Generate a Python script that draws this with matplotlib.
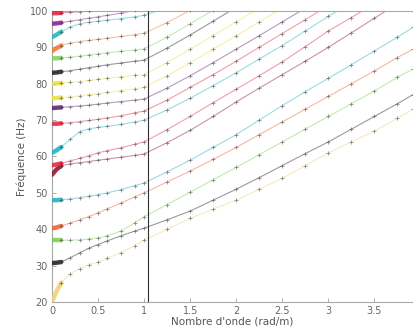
import numpy as np
import matplotlib
matplotlib.use("Agg")
import matplotlib.pyplot as plt

# shared wavenumber grid (rad/m)
k_grid = [0, 0.05, 0.1, 0.2, 0.3, 0.4, 0.5, 0.6, 0.75, 0.9, 1.0, 1.25, 1.5,
          1.75, 2.0, 2.25, 2.5, 2.75, 3.0, 3.25, 3.5, 3.75, 3.92]

# frequency (Hz) of each mode on the grid (truncated once above 100 Hz)
mode_A = [20, 23, 25.3, 27.8, 29.2, 30.2, 31.0, 32.0, 33.6, 35.5, 37.0, 40.0, 43.0,
          45.5, 48.0, 51.0, 54.0, 57.5, 61.0, 64.0, 67.0, 70.5, 73.0]
mode_B = [30.7, 30.8, 31.0, 32.2, 33.5, 34.8, 35.8, 36.8, 38.2, 39.5, 40.3, 42.6, 45.0,
          48.0, 51.0, 54.2, 57.5, 60.8, 64.0, 67.5, 71.0, 74.5, 77.0]
mode_C = [37.0, 37.0, 37.0, 37.0, 37.1, 37.3, 37.6, 38.2, 39.5, 41.8, 43.4, 46.8, 50.2,
          53.6, 57.0, 60.5, 64.0, 67.5, 71.0, 74.5, 78.0, 81.8, 84.0]
mode_D = [40.3, 40.5, 40.9, 41.7, 42.6, 43.5, 44.5, 45.6, 47.2, 48.9, 50.0, 53.0, 56.0,
          59.2, 62.5, 66.0, 69.5, 73.0, 76.5, 80.0, 83.5, 87.2, 89.5]
mode_E = [48.0, 48.0, 48.1, 48.3, 48.7, 49.1, 49.5, 50.0, 50.9, 52.0, 52.7, 55.8, 59.0,
          62.5, 66.0, 70.0, 74.0, 77.8, 81.5, 85.2, 89.0, 92.8, 95.5]
mode_F = [55.0, 56.5, 57.4, 58.0, 58.3, 58.6, 59.0, 59.3, 59.8, 60.3, 60.7, 63.8, 67.2,
          71.0, 75.0, 78.8, 82.5, 86.2, 90.0, 94.0, 98.0, 102.0]
mode_G = [57.6, 57.8, 58.1, 58.8, 59.5, 60.2, 61.0, 61.6, 62.4, 63.4, 64.0, 67.4, 71.0,
          74.8, 78.5, 82.2, 86.0, 90.2, 94.5, 98.2, 102.0]
mode_H = [61.0, 61.7, 62.6, 64.8, 66.8, 67.6, 68.0, 68.3, 68.8, 69.5, 70.0, 72.8, 76.0,
          79.5, 83.0, 86.8, 90.5, 94.5, 98.5, 102.5]
mode_I = [69.0, 69.0, 69.1, 69.3, 69.6, 69.9, 70.2, 70.6, 71.2, 72.0, 72.5, 75.5, 79.0,
          82.5, 86.2, 90.0, 93.8, 97.6, 101.5]
mode_J = [73.3, 73.4, 73.5, 73.7, 73.9, 74.1, 74.4, 74.7, 75.1, 75.5, 75.8, 78.8, 82.2,
          85.8, 89.5, 93.2, 97.0, 100.8]
mode_K = [76.0, 76.1, 76.2, 76.4, 76.7, 77.0, 77.3, 77.6, 78.1, 78.6, 79.0, 82.2, 85.8,
          89.5, 93.2, 97.0, 100.8]
mode_L = [80.0, 80.1, 80.2, 80.4, 80.6, 80.9, 81.2, 81.5, 81.9, 82.3, 82.5, 85.8, 89.5,
          93.2, 97.0, 100.8]
mode_M = [83.0, 83.1, 83.3, 83.6, 84.0, 84.4, 84.8, 85.2, 85.7, 86.2, 86.5, 89.8, 93.4,
          97.2, 101.0]
mode_N = [87.0, 87.0, 87.1, 87.3, 87.6, 87.9, 88.2, 88.5, 88.9, 89.3, 89.6, 92.8, 96.5,
          100.2]
mode_O = [89.0, 89.8, 90.5, 91.2, 91.6, 91.9, 92.2, 92.5, 93.0, 93.5, 93.9, 96.8, 100.2]
mode_P = [92.8, 93.5, 94.3, 95.6, 96.5, 96.9, 97.2, 97.5, 97.9, 98.4, 98.8, 101.0]
mode_Q = [96.5, 96.6, 96.8, 97.2, 97.6, 98.0, 98.4, 98.8, 99.4, 100.2]
mode_R = [99.4, 99.4, 99.5, 99.6, 99.8, 100.1]

modes = [mode_A, mode_B, mode_C, mode_D, mode_E, mode_F, mode_G, mode_H, mode_I,
         mode_J, mode_K, mode_L, mode_M, mode_N, mode_O, mode_P, mode_Q, mode_R]
mode_colors = ["#f0d070", "#202020", "#7cd050", "#f06030", "#20b0c0", "#901030",
               "#e02840", "#20b0c0", "#e02840", "#602070", "#e8e040", "#e8e040",
               "#202020", "#80d060", "#f07830", "#20b8c0", "#8a2090", "#e02040"]

k_line = 1.04

xticks = [0, 0.5, 1, 1.5, 2, 2.5, 3, 3.5]
xticklabels = ["0", "0.5", "1", "1.5", "2", "2.5", "3", "3.5"]
yticks = [20, 30, 40, 50, 60, 70, 80, 90, 100]

fig = plt.figure(figsize=(4.13, 3.32), dpi=100)
ax = fig.add_axes([0.126, 0.0904, 0.874, 0.8765])

kg = np.array(k_grid)
for vals, col in zip(modes, mode_colors):
    kk = kg[:len(vals)]
    ff = np.array(vals)
    ax.plot(kk, ff, color=col, lw=0.8, alpha=0.45, zorder=2)
    ax.plot(kk[:3], ff[:3], color=col, lw=3.2, alpha=0.85, zorder=3,
            solid_capstyle="round")
    ax.plot(kk[2:], ff[2:], ls="none", marker="+", ms=3.2, mew=0.6,
            color="#404040", alpha=0.6, zorder=4)

ax.axvline(k_line, color="#303030", lw=0.8, zorder=5)

ax.set_xlim(0, 3.92)
ax.set_ylim(20, 100)
ax.set_xticks(xticks)
ax.set_xticklabels(xticklabels)
ax.set_yticks(yticks)
ax.tick_params(direction="in", length=3, width=0.6, colors="#a0a0a0",
               labelcolor="#666666", labelsize=7, pad=3)
for s in ["left", "bottom", "top"]:
    ax.spines[s].set_color("#a8a8a8")
    ax.spines[s].set_linewidth(0.8)
ax.spines["right"].set_visible(False)

ax.set_xlabel("Nombre d'onde (rad/m)", fontsize=7.5, color="#555555", labelpad=0)
ax.set_ylabel("Fréquence (Hz)", fontsize=7.5, color="#555555", labelpad=2)

fig.savefig("out.png", dpi=100)
